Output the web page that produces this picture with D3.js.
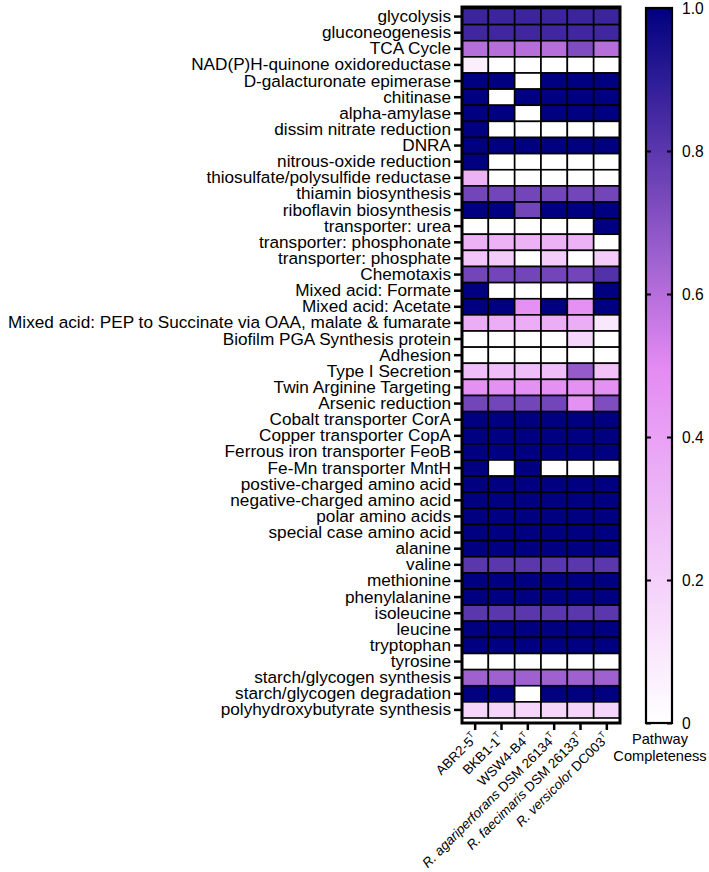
<!DOCTYPE html>
<html><head><meta charset="utf-8">
<script src="https://cdn.jsdelivr.net/npm/d3@7/dist/d3.min.js"></script>
<style>
body{margin:0;background:#fff}
svg{display:block}
text{font-family:"Liberation Sans",Arial,Helvetica,sans-serif;fill:#000}
</style>
</head><body>
<svg id="chart" width="709" height="872"></svg>
<script>
// ---- data ----
const pathways = [
  "glycolysis","gluconeogenesis","TCA Cycle","NAD(P)H-quinone oxidoreductase",
  "D-galacturonate epimerase","chitinase","alpha-amylase","dissim nitrate reduction",
  "DNRA","nitrous-oxide reduction","thiosulfate/polysulfide reductase","thiamin biosynthesis",
  "riboflavin biosynthesis","transporter: urea","transporter: phosphonate","transporter: phosphate",
  "Chemotaxis","Mixed acid: Formate","Mixed acid: Acetate",
  "Mixed acid: PEP to Succinate via OAA, malate & fumarate","Biofilm PGA Synthesis protein",
  "Adhesion","Type I Secretion","Twin Arginine Targeting","Arsenic reduction",
  "Cobalt transporter CorA","Copper transporter CopA","Ferrous iron transporter FeoB",
  "Fe-Mn transporter MntH","postive-charged amino acid","negative-charged amino acid",
  "polar amino acids","special case amino acid","alanine","valine","methionine",
  "phenylalanine","isoleucine","leucine","tryptophan","tyrosine",
  "starch/glycogen synthesis","starch/glycogen degradation","polyhydroxybutyrate synthesis"
];
const strains = ["ABR2-5","BKB1-1","WSW4-B4","R. agariperforans DSM 26134","R. faecimaris DSM 26133","R. versicolor DC003"];
const strainItalic = ["","","","R. agariperforans","R. faecimaris","R. versicolor"];

const ABR2_5 = [0.87,0.86,0.6,0.07,1,1,1,1,1,1,0.33,0.75,1,0,0.33,0.25,0.75,1,1,0.35,0,0,0.28,0.47,0.75,1,1,1,1,1,1,1,1,1,0.8,1,1,0.8,1,1,0,0.65,1,0.18];
const BKB1_1 = [0.87,0.86,0.6,0,1,0,1,0,1,0,0,0.75,1,0,0.33,0.22,0.75,0,1,0.35,0,0,0.28,0.47,0.75,1,1,1,0,1,1,1,1,1,0.8,1,1,0.8,1,1,0,0.65,1,0.18];
const WSW4_B4 = [0.87,0.86,0.6,0,0,1,0,0,1,0,0,0.75,0.75,0,0.33,0,0.75,0,0.47,0.35,0,0,0.28,0.47,0.75,1,1,1,1,1,1,1,1,1,0.8,1,1,0.8,1,1,0,0.65,0,0.18];
const DSM26134 = [0.87,0.86,0.6,0,1,1,1,0,1,0,0,0.75,1,0,0.33,0.22,0.75,0,1,0.35,0,0,0.28,0.47,0.75,1,1,1,0,1,1,1,1,1,0.8,1,1,0.8,1,1,0,0.65,1,0.18];
const DSM26133 = [0.87,0.86,0.72,0,1,1,1,0,1,0,0,0.75,1,0,0.33,0,0.75,0,0.47,0.35,0.17,0,0.67,0.47,0.47,1,1,1,0,1,1,1,1,1,0.8,1,1,0.8,1,1,0,0.65,1,0.18];
const DC003 = [0.87,0.86,0.6,0,1,1,1,0,1,0,0,0.75,1,1,0,0.22,0.82,1,1,0.1,0,0,0.26,0.47,0.72,1,1,1,0,1,1,1,1,1,0.8,1,1,0.8,1,1,0,0.65,1,0.18];
const seriesValues = [ABR2_5, BKB1_1, WSW4_B4, DSM26134, DSM26133, DC003];

const colorTicks = [0,0.2,0.4,0.6,0.8,1.0];
const colorTickLabels = ["0","0.2","0.4","0.6","0.8","1.0"];
const legendTitle = ["Pathway","Completeness"];

// ---- layout ----
const svg = d3.select("#chart");
const L = 462, R = 620, T = 7, B = 723;
const x = d3.scaleBand().domain(strains).range([L, R]);
const y = d3.scaleBand().domain(pathways).range([8.5, 718]);
const color = d3.scaleLinear().domain([0,0.5,1]).range(["#ffffff","#e38af2","#000080"]).interpolate(d3.interpolateRgb);

const cells = [];
strains.forEach((s,i)=>pathways.forEach((p,j)=>cells.push({s,p,v:seriesValues[i][j]})));

svg.append("g").selectAll("rect").data(cells).join("rect")
  .attr("x", d=>x(d.s)).attr("y", d=>y(d.p))
  .attr("width", x.bandwidth()).attr("height", y.bandwidth())
  .attr("fill", d=>color(d.v))
  .attr("stroke","#000").attr("stroke-width",1.6);

// frame
svg.append("path")
  .attr("d", `M${L},${T}H${R}V${B}H${L}Z`)
  .attr("fill","none").attr("stroke","#000").attr("stroke-width",3);

// left axis
const yAxis = svg.append("g").attr("transform",`translate(${L},0)`)
  .call(d3.axisLeft(y).tickSize(8).tickPadding(3));
yAxis.select(".domain").remove();
yAxis.selectAll(".tick line").attr("stroke","#000").attr("stroke-width",2.5);
yAxis.selectAll(".tick text").attr("font-size","17.2px").attr("font-family","Liberation Sans, Arial, sans-serif").attr("fill","#000");

// bottom axis
const xAxis = svg.append("g").attr("transform",`translate(0,${B})`)
  .call(d3.axisBottom(x).tickSize(7).tickFormat(""));
xAxis.select(".domain").remove();
xAxis.selectAll(".tick line").attr("stroke","#000").attr("stroke-width",2.5);

// x labels
const xl = svg.append("g").selectAll("text").data(strains).join("text")
  .attr("transform", d=>`translate(${x(d)+x.bandwidth()/2+3},${B+16}) rotate(-45)`)
  .attr("text-anchor","end")
  .attr("font-size","13.4px");
xl.each(function(d,i){
  const t = d3.select(this);
  const it = strainItalic[i];
  if(it){ t.append("tspan").attr("font-style","italic").text(it); t.append("tspan").text(d.slice(it.length)); }
  else t.append("tspan").text(d);
  t.append("tspan").attr("font-size","8.5px").attr("dy","-6").text("T");
});

// colorbar
const CL = 646, CR = 672, CT = 8, CB = 723;
const cy = d3.scaleLinear().domain([0,1]).range([CB, CT]);
const grad = svg.append("defs").append("linearGradient").attr("id","cg")
  .attr("x1","0").attr("y1","1").attr("x2","0").attr("y2","0");
d3.range(0,1.0001,0.05).forEach(v=>grad.append("stop").attr("offset",v).attr("stop-color",color(v)));
svg.append("rect").attr("x",CL).attr("y",CT).attr("width",CR-CL).attr("height",CB-CT)
  .attr("fill","url(#cg)").attr("stroke","#000").attr("stroke-width",2.2);

const cAxR = svg.append("g").attr("transform",`translate(${CR},0)`)
  .call(d3.axisRight(cy).tickValues(colorTicks).tickSize(-5).tickPadding(10)
    .tickFormat((d,i)=>colorTickLabels[i]));
cAxR.select(".domain").remove();
cAxR.selectAll(".tick line").attr("stroke","#000").attr("stroke-width",2);
cAxR.selectAll(".tick text").attr("font-size","15.6px").attr("font-family","Liberation Sans, Arial, sans-serif").attr("fill","#000");
const cAxL = svg.append("g").attr("transform",`translate(${CL},0)`)
  .call(d3.axisLeft(cy).tickValues(colorTicks).tickSize(-5).tickFormat(""));
cAxL.select(".domain").remove();
cAxL.selectAll(".tick line").attr("stroke","#000").attr("stroke-width",2);

svg.append("g").selectAll("text").data(legendTitle).join("text")
  .attr("x",660).attr("y",(d,i)=>744+i*16.5)
  .attr("text-anchor","middle").attr("font-size","14.6px").text(d=>d);
</script>
</body></html>
